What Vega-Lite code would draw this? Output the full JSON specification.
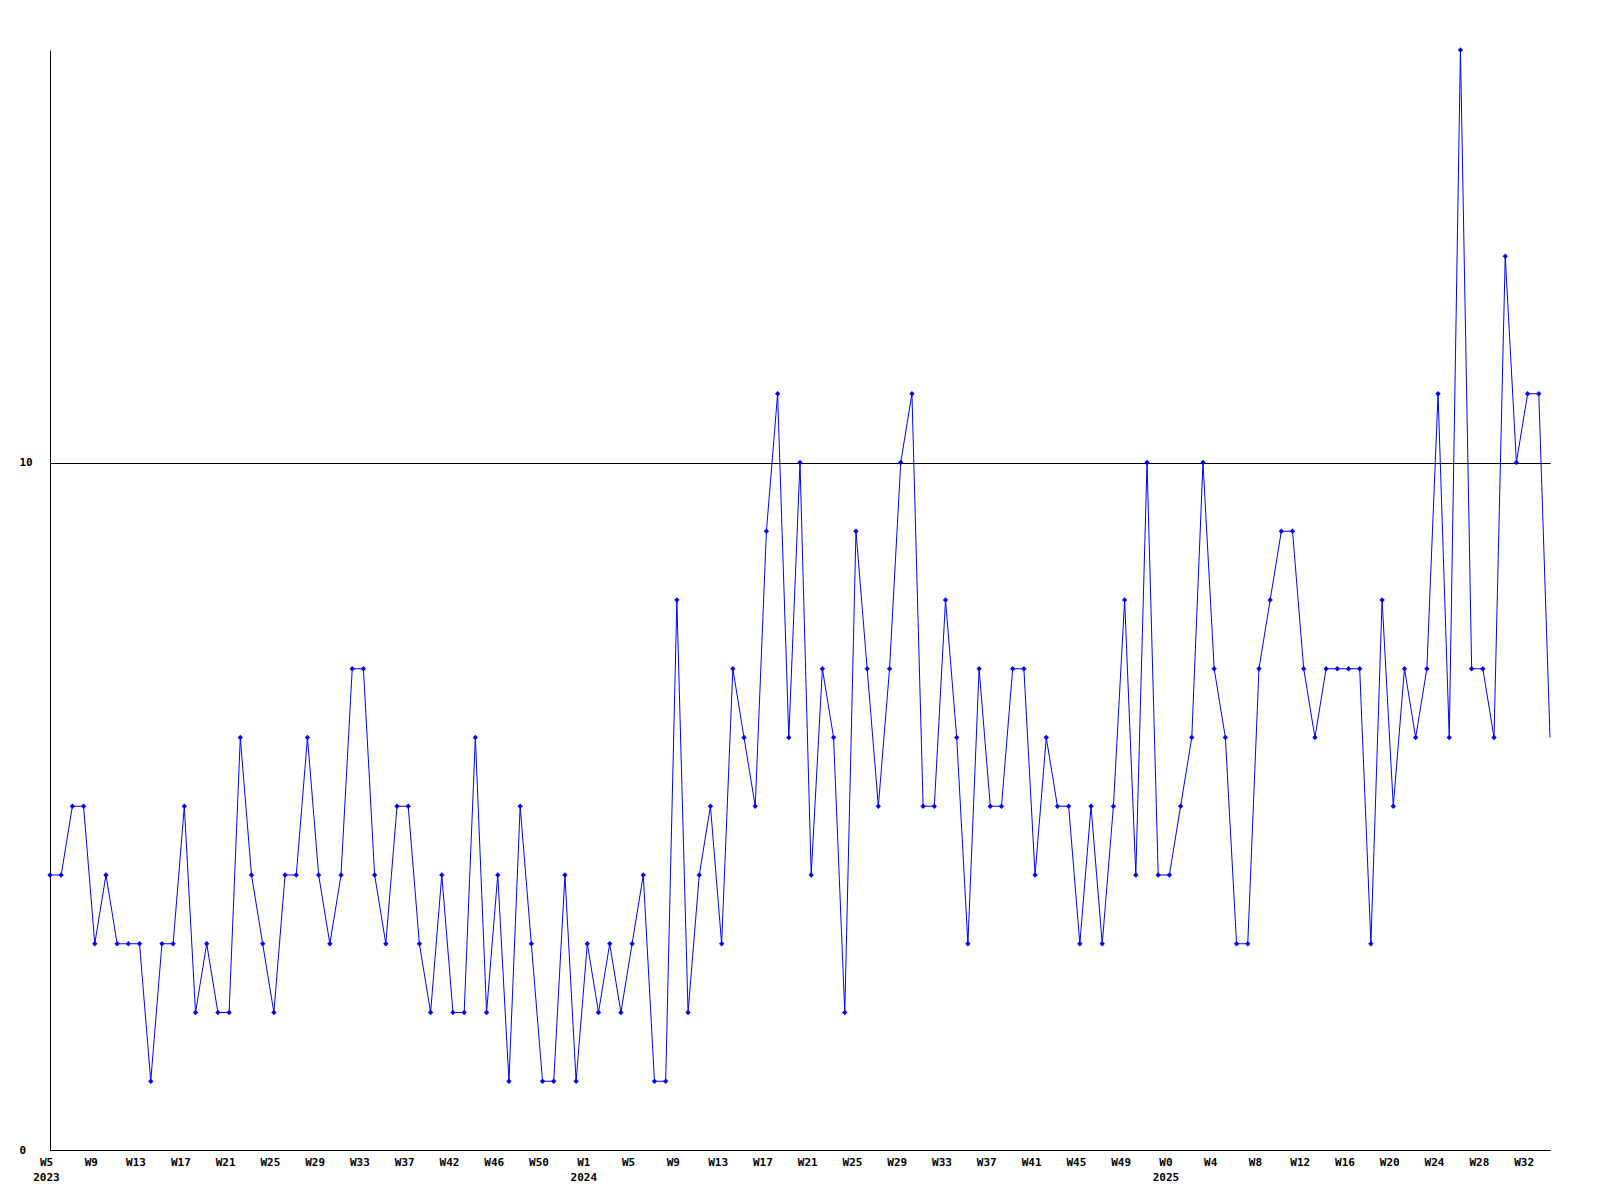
{
  "$schema": "https://vega.github.io/schema/vega-lite/v6.json",
  "width": 1500,
  "height": 1100,
  "autosize": {"type": "none"},
  "padding": {"left": 50, "top": 50, "right": 50, "bottom": 50},
  "background": "white",
  "config": {
    "view": {"stroke": null},
    "axis": {
      "domainColor": "black",
      "domainWidth": 1,
      "labelColor": "black",
      "labelFont": "DejaVu Sans Mono",
      "labelFontWeight": "bold",
      "labelFontSize": 11,
      "ticks": false,
      "tickSize": 0,
      "title": null,
      "labelOverlap": false,
      "labelBound": false,
      "labelFlush": false
    }
  },
  "data": {
    "values": [
      {"wk": "W5 2023", "v": 4}, {"wk": "W6 2023", "v": 4}, {"wk": "W7 2023", "v": 5}, {"wk": "W8 2023", "v": 5},
      {"wk": "W9 2023", "v": 3}, {"wk": "W10 2023", "v": 4}, {"wk": "W11 2023", "v": 3}, {"wk": "W12 2023", "v": 3},
      {"wk": "W13 2023", "v": 3}, {"wk": "W14 2023", "v": 1}, {"wk": "W15 2023", "v": 3}, {"wk": "W16 2023", "v": 3},
      {"wk": "W17 2023", "v": 5}, {"wk": "W18 2023", "v": 2}, {"wk": "W19 2023", "v": 3}, {"wk": "W20 2023", "v": 2},
      {"wk": "W21 2023", "v": 2}, {"wk": "W22 2023", "v": 6}, {"wk": "W23 2023", "v": 4}, {"wk": "W24 2023", "v": 3},
      {"wk": "W25 2023", "v": 2}, {"wk": "W26 2023", "v": 4}, {"wk": "W27 2023", "v": 4}, {"wk": "W28 2023", "v": 6},
      {"wk": "W29 2023", "v": 4}, {"wk": "W30 2023", "v": 3}, {"wk": "W31 2023", "v": 4}, {"wk": "W32 2023", "v": 7},
      {"wk": "W33 2023", "v": 7}, {"wk": "W34 2023", "v": 4}, {"wk": "W35 2023", "v": 3}, {"wk": "W36 2023", "v": 5},
      {"wk": "W37 2023", "v": 5}, {"wk": "W38 2023", "v": 3}, {"wk": "W39 2023", "v": 2}, {"wk": "W40 2023", "v": 4},
      {"wk": "W42 2023", "v": 2}, {"wk": "W43 2023", "v": 2}, {"wk": "W44 2023", "v": 6}, {"wk": "W45 2023", "v": 2},
      {"wk": "W46 2023", "v": 4}, {"wk": "W47 2023", "v": 1}, {"wk": "W48 2023", "v": 5}, {"wk": "W49 2023", "v": 3},
      {"wk": "W50 2023", "v": 1}, {"wk": "W51 2023", "v": 1}, {"wk": "W52 2023", "v": 4}, {"wk": "W53 2023", "v": 1},
      {"wk": "W1 2024", "v": 3}, {"wk": "W2 2024", "v": 2}, {"wk": "W3 2024", "v": 3}, {"wk": "W4 2024", "v": 2},
      {"wk": "W5 2024", "v": 3}, {"wk": "W6 2024", "v": 4}, {"wk": "W7 2024", "v": 1}, {"wk": "W8 2024", "v": 1},
      {"wk": "W9 2024", "v": 8}, {"wk": "W10 2024", "v": 2}, {"wk": "W11 2024", "v": 4}, {"wk": "W12 2024", "v": 5},
      {"wk": "W13 2024", "v": 3}, {"wk": "W14 2024", "v": 7}, {"wk": "W15 2024", "v": 6}, {"wk": "W16 2024", "v": 5},
      {"wk": "W17 2024", "v": 9}, {"wk": "W18 2024", "v": 11}, {"wk": "W19 2024", "v": 6}, {"wk": "W20 2024", "v": 10},
      {"wk": "W21 2024", "v": 4}, {"wk": "W22 2024", "v": 7}, {"wk": "W23 2024", "v": 6}, {"wk": "W24 2024", "v": 2},
      {"wk": "W25 2024", "v": 9}, {"wk": "W26 2024", "v": 7}, {"wk": "W27 2024", "v": 5}, {"wk": "W28 2024", "v": 7},
      {"wk": "W29 2024", "v": 10}, {"wk": "W30 2024", "v": 11}, {"wk": "W31 2024", "v": 5}, {"wk": "W32 2024", "v": 5},
      {"wk": "W33 2024", "v": 8}, {"wk": "W34 2024", "v": 6}, {"wk": "W35 2024", "v": 3}, {"wk": "W36 2024", "v": 7},
      {"wk": "W37 2024", "v": 5}, {"wk": "W38 2024", "v": 5}, {"wk": "W39 2024", "v": 7}, {"wk": "W40 2024", "v": 7},
      {"wk": "W41 2024", "v": 4}, {"wk": "W42 2024", "v": 6}, {"wk": "W43 2024", "v": 5}, {"wk": "W44 2024", "v": 5},
      {"wk": "W45 2024", "v": 3}, {"wk": "W46 2024", "v": 5}, {"wk": "W47 2024", "v": 3}, {"wk": "W48 2024", "v": 5},
      {"wk": "W49 2024", "v": 8}, {"wk": "W50 2024", "v": 4}, {"wk": "W51 2024", "v": 10}, {"wk": "W52 2024", "v": 4},
      {"wk": "W0 2025", "v": 4}, {"wk": "W1 2025", "v": 5}, {"wk": "W2 2025", "v": 6}, {"wk": "W3 2025", "v": 10},
      {"wk": "W4 2025", "v": 7}, {"wk": "W5 2025", "v": 6}, {"wk": "W6 2025", "v": 3}, {"wk": "W7 2025", "v": 3},
      {"wk": "W8 2025", "v": 7}, {"wk": "W9 2025", "v": 8}, {"wk": "W10 2025", "v": 9}, {"wk": "W11 2025", "v": 9},
      {"wk": "W12 2025", "v": 7}, {"wk": "W13 2025", "v": 6}, {"wk": "W14 2025", "v": 7}, {"wk": "W15 2025", "v": 7},
      {"wk": "W16 2025", "v": 7}, {"wk": "W17 2025", "v": 7}, {"wk": "W18 2025", "v": 3}, {"wk": "W19 2025", "v": 8},
      {"wk": "W20 2025", "v": 5}, {"wk": "W21 2025", "v": 7}, {"wk": "W22 2025", "v": 6}, {"wk": "W23 2025", "v": 7},
      {"wk": "W24 2025", "v": 11}, {"wk": "W25 2025", "v": 6}, {"wk": "W26 2025", "v": 16}, {"wk": "W27 2025", "v": 7},
      {"wk": "W28 2025", "v": 7}, {"wk": "W29 2025", "v": 6}, {"wk": "W30 2025", "v": 13}, {"wk": "W31 2025", "v": 10},
      {"wk": "W32 2025", "v": 11}, {"wk": "W33 2025", "v": 11}, {"wk": "W34 2025", "v": 6}
    ]
  },
  "encoding": {
    "x": {
      "field": "wk",
      "type": "ordinal",
      "sort": null,
      "scale": {"type": "point", "padding": 0},
      "axis": {
        "values": ["W5 2023", "W9 2023", "W13 2023", "W17 2023", "W21 2023", "W25 2023", "W29 2023", "W33 2023", "W37 2023", "W42 2023", "W46 2023", "W50 2023",
                   "W1 2024", "W5 2024", "W9 2024", "W13 2024", "W17 2024", "W21 2024", "W25 2024", "W29 2024", "W33 2024", "W37 2024", "W41 2024", "W45 2024", "W49 2024",
                   "W0 2025", "W4 2025", "W8 2025", "W12 2025", "W16 2025", "W20 2025", "W24 2025", "W28 2025", "W32 2025"],
        "labelExpr": "indexof(['W5 2023','W1 2024','W0 2025'], datum.value) >= 0 ? split(datum.value, ' ') : split(datum.value, ' ')[0]",
        "labelAngle": 0,
        "labelAlign": "center",
        "labelBaseline": "top",
        "labelPadding": 6,
        "labelLineHeight": 15,
        "labelOffset": -4,
        "grid": false
      }
    },
    "y": {
      "field": "v",
      "type": "quantitative",
      "scale": {"domain": [0, 16], "nice": false, "zero": true},
      "axis": {
        "values": [0, 10],
        "labelAlign": "left",
        "labelBaseline": "middle",
        "labelPadding": 31,
        "grid": true,
        "gridColor": "black",
        "gridOpacity": 1,
        "gridWidth": 1
      }
    }
  },
  "layer": [
    {"mark": {"type": "line", "color": "#0000ff", "strokeWidth": 1, "interpolate": "linear"}},
    {
      "transform": [{"filter": "datum.wk != 'W34 2025'"}],
      "mark": {"type": "point", "shape": "diamond", "filled": true, "color": "#0000ff", "size": 28, "opacity": 1}
    }
  ]
}
